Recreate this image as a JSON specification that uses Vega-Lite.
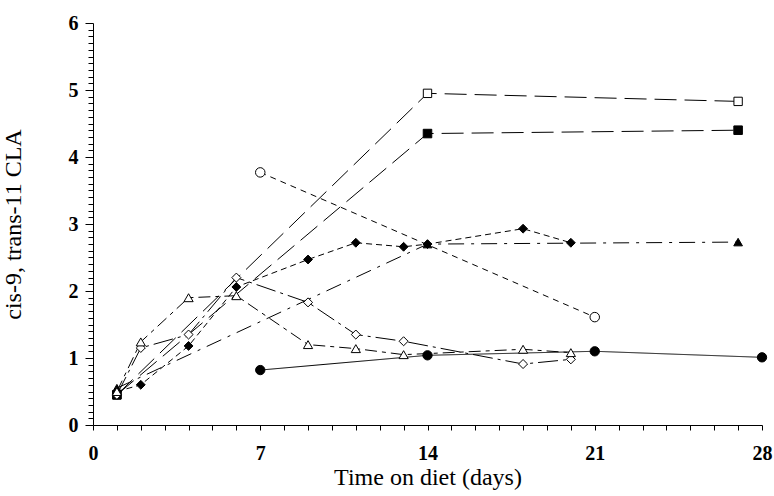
{
  "$schema": "https://vega.github.io/schema/vega-lite/v6.json",
  "width": 669,
  "height": 402,
  "autosize": "none",
  "padding": {"left": 93, "top": 23, "right": 12, "bottom": 71},
  "background": "white",
  "config": {"view": {"stroke": null}},
  "data": {"values": [
    {"series": "A", "day": 1, "val": 0.45},
    {"series": "A", "day": 14, "val": 4.95},
    {"series": "A", "day": 27, "val": 4.83},
    {"series": "B", "day": 1, "val": 0.45},
    {"series": "B", "day": 14, "val": 4.35},
    {"series": "B", "day": 27, "val": 4.4},
    {"series": "C", "day": 1, "val": 0.55},
    {"series": "C", "day": 14, "val": 2.7},
    {"series": "C", "day": 27, "val": 2.73},
    {"series": "D", "day": 1, "val": 0.5},
    {"series": "D", "day": 2, "val": 0.6},
    {"series": "D", "day": 4, "val": 1.18},
    {"series": "D", "day": 6, "val": 2.06},
    {"series": "D", "day": 9, "val": 2.47},
    {"series": "D", "day": 11, "val": 2.72},
    {"series": "D", "day": 13, "val": 2.66},
    {"series": "D", "day": 14, "val": 2.7},
    {"series": "D", "day": 18, "val": 2.93},
    {"series": "D", "day": 20, "val": 2.72},
    {"series": "E", "day": 1, "val": 0.45},
    {"series": "E", "day": 2, "val": 1.15},
    {"series": "E", "day": 4, "val": 1.35},
    {"series": "E", "day": 6, "val": 2.2},
    {"series": "E", "day": 9, "val": 1.83},
    {"series": "E", "day": 11, "val": 1.35},
    {"series": "E", "day": 13, "val": 1.25},
    {"series": "E", "day": 18, "val": 0.91},
    {"series": "E", "day": 20, "val": 0.98},
    {"series": "F", "day": 1, "val": 0.5},
    {"series": "F", "day": 2, "val": 1.24},
    {"series": "F", "day": 4, "val": 1.9},
    {"series": "F", "day": 6, "val": 1.93},
    {"series": "F", "day": 9, "val": 1.2},
    {"series": "F", "day": 11, "val": 1.14},
    {"series": "F", "day": 13, "val": 1.05},
    {"series": "F", "day": 18, "val": 1.13},
    {"series": "F", "day": 20, "val": 1.08},
    {"series": "G", "day": 7, "val": 0.82},
    {"series": "G", "day": 14, "val": 1.04},
    {"series": "G", "day": 21, "val": 1.1},
    {"series": "G", "day": 28, "val": 1.01},
    {"series": "H", "day": 7, "val": 3.77},
    {"series": "H", "day": 21, "val": 1.61}
  ]},
  "encoding": {
    "x": {
      "field": "day", "type": "quantitative",
      "scale": {"domain": [0, 28], "nice": false},
      "axis": {
        "values": [0,1,2,3,4,5,6,7,8,9,10,11,12,13,14,15,16,17,18,19,20,21,22,23,24,25,26,27,28],
        "labelExpr": "datum.value % 7 === 0 ? format(datum.value, 'd') : ''",
        "labelOverlap": false, "labelFlush": false,
        "grid": false, "ticks": true, "tickSize": 5, "tickWidth": 1, "tickColor": "black", "domainColor": "black",
        "labelFont": "Liberation Serif", "labelFontWeight": "bold", "labelFontSize": 20, "labelColor": "black",
        "labelPadding": 13,
        "title": "Time on diet (days)", "titleFont": "Liberation Serif", "titleFontWeight": "normal",
        "titleFontSize": 24, "titleColor": "black", "titlePadding": 2
      }
    },
    "y": {
      "field": "val", "type": "quantitative",
      "scale": {"domain": [0, 6], "nice": false},
      "axis": {
        "values": [0,0.1,0.2,0.3,0.4,0.5,0.6,0.7,0.8,0.9,1,1.1,1.2,1.3,1.4,1.5,1.6,1.7,1.8,1.9,2,2.1,2.2,2.3,2.4,2.5,2.6,2.7,2.8,2.9,3,3.1,3.2,3.3,3.4,3.5,3.6,3.7,3.8,3.9,4,4.1,4.2,4.3,4.4,4.5,4.6,4.7,4.8,4.9,5,5.1,5.2,5.3,5.4,5.5,5.6,5.7,5.8,5.9,6],
        "labelExpr": "datum.value % 1 === 0 ? format(datum.value, 'd') : ''",
        "labelOverlap": false, "labelFlush": false,
        "grid": false, "ticks": true,
        "tickSize": {"condition": {"test": "datum.value % 1 === 0", "value": 8}, "value": 5},
        "tickWidth": 1,
        "tickColor": "black", "domainColor": "black",
        "labelFont": "Liberation Serif", "labelFontWeight": "bold", "labelFontSize": 20, "labelColor": "black",
        "labelPadding": 7,
        "title": "cis-9, trans-11 CLA", "titleFont": "Liberation Serif", "titleFontWeight": "normal",
        "titleFontSize": 24, "titleColor": "black", "titlePadding": 43
      }
    }
  },
  "layer": [
    {
      "mark": {"type": "line", "color": "black", "strokeWidth": 1},
      "encoding": {
        "detail": {"field": "series", "type": "nominal"},
        "strokeDash": {
          "field": "series", "type": "nominal",
          "scale": {"domain": ["A","B","C","D","E","F","G","H"],
                    "range": [[22,8],[22,8],[16,7,3,7],[6,4],[20,5,3,5],[12,5,4,5],[1,0],[6,5]]},
          "legend": null
        }
      }
    },
    {
      "mark": {"type": "point", "filled": true, "stroke": "black", "strokeWidth": 1, "opacity": 1},
      "encoding": {
        "shape": {
          "field": "series", "type": "nominal",
          "scale": {"domain": ["A","B","C","D","E","F","G","H"],
                    "range": ["square","square","triangle-up","diamond","diamond","triangle-up","circle","circle"]},
          "legend": null
        },
        "fill": {
          "field": "series", "type": "nominal",
          "scale": {"domain": ["A","B","C","D","E","F","G","H"],
                    "range": ["white","black","black","black","white","white","black","white"]},
          "legend": null
        },
        "size": {
          "field": "series", "type": "nominal",
          "scale": {"domain": ["A","B","C","D","E","F","G","H"],
                    "range": [70,90,70,70,60,70,90,70]},
          "legend": null
        }
      }
    }
  ]
}
